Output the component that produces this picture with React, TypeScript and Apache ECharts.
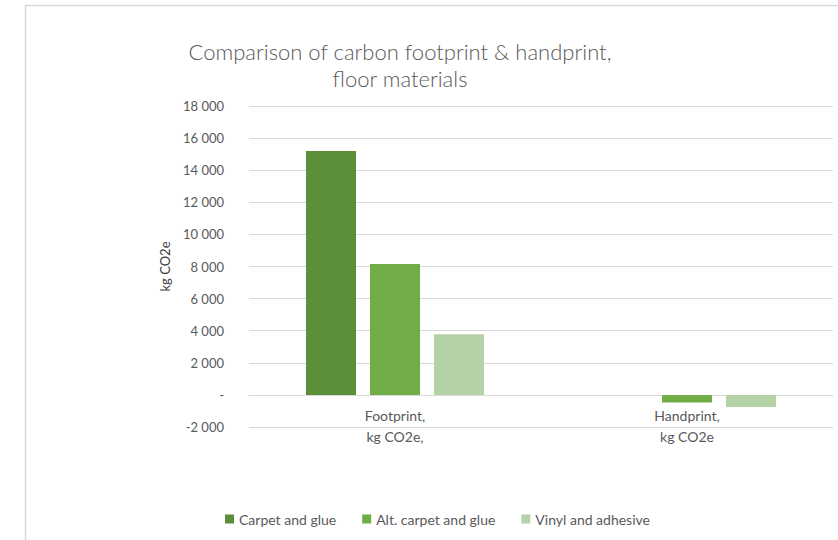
import React, { useEffect, useRef } from "react";
import * as echarts from "echarts";

const categories = ["Footprint,\nkg CO2e,", "Handprint,\nkg CO2e"];
const seriesNames = ["Carpet and glue", "Alt. carpet and glue", "Vinyl and adhesive"];
const carpetGlue = [15200, 0];
const altCarpetGlue = [8150, -480];
const vinylAdhesive = [3780, -760];
const seriesColors = ["#5b8f3a", "#70ad47", "#b5d2a6"];

const Y_MIN = -2000;
const Y_MAX = 18000;

const FONT = "Lato, 'Liberation Sans', sans-serif";
const GREY = "#595959";

function fmt(v: number): string {
  if (v === 0) return "-";
  const s = Math.abs(v).toString().replace(/\B(?=(\d{3})+(?!\d))/g, " ");
  return (v < 0 ? "-" : "") + s;
}

export default function App() {
  const ref = useRef<HTMLDivElement>(null);
  useEffect(() => {
    if (!ref.current) return;
    const chart = echarts.init(ref.current, undefined, { renderer: "svg" });
    const data = [carpetGlue, altCarpetGlue, vinylAdhesive];
    const gridTop = 106;
    const gridBottom = 113;
    const gridH = 540 - gridTop - gridBottom;
    const zeroOffset = -(gridH * (0 - Y_MIN)) / (Y_MAX - Y_MIN);
    chart.setOption({
      animation: false,
      backgroundColor: "#ffffff",
      textStyle: { fontFamily: FONT },
      graphic: [
        {
          type: "polyline",
          shape: { points: [[25.5, 545], [25.5, 5.5], [845, 5.5]] },
          style: { stroke: "#d9d9d9", lineWidth: 1.5, fill: "none" },
          silent: true,
        },
        {
          type: "text",
          x: 400,
          y: 38,
          style: {
            text: "Comparison of carbon footprint & handprint,\nfloor materials",
            fontFamily: FONT,
            fontWeight: 300,
            fontSize: 22,
            lineHeight: 27,
            fill: GREY,
            align: "center",
            verticalAlign: "top",
          },
        },
      ],
      legend: {
        left: 220,
        top: 507,
        icon: "rect",
        itemWidth: 9,
        itemHeight: 9,
        itemGap: 26,
        itemTextGap: 4,
        textStyle: { color: GREY, fontSize: 14, fontFamily: FONT },
        data: seriesNames,
      },
      grid: { left: 249, right: 5, top: gridTop, bottom: gridBottom, containLabel: false },
      xAxis: {
        type: "category",
        data: categories,
        offset: zeroOffset,
        axisLine: { onZero: false, lineStyle: { color: "#d9d9d9", width: 1 } },
        axisTick: { show: false },
        axisLabel: { color: GREY, fontSize: 14, lineHeight: 21, margin: 10, fontFamily: FONT },
      },
      yAxis: {
        type: "value",
        min: Y_MIN,
        max: Y_MAX,
        interval: 2000,
        name: "kg CO2e",
        nameLocation: "middle",
        nameGap: 78,
        nameRotate: 90,
        nameTextStyle: { color: "#404040", fontSize: 13, fontFamily: FONT },
        axisLine: { show: false },
        axisTick: { show: false },
        axisLabel: { color: GREY, fontSize: 13, margin: 25, formatter: fmt, fontFamily: FONT },
        splitLine: { lineStyle: { color: "#d9d9d9", width: 1 } },
      },
      series: seriesNames.map((name, i) => ({
        name,
        type: "bar",
        data: data[i],
        barWidth: 50,
        barGap: "28%",
        itemStyle: { color: seriesColors[i] },
      })),
    });
    return () => chart.dispose();
  }, []);
  return (
    <div
      ref={ref}
      style={{ position: "absolute", left: 0, top: 0, width: 838, height: 540 }}
    />
  );
}
